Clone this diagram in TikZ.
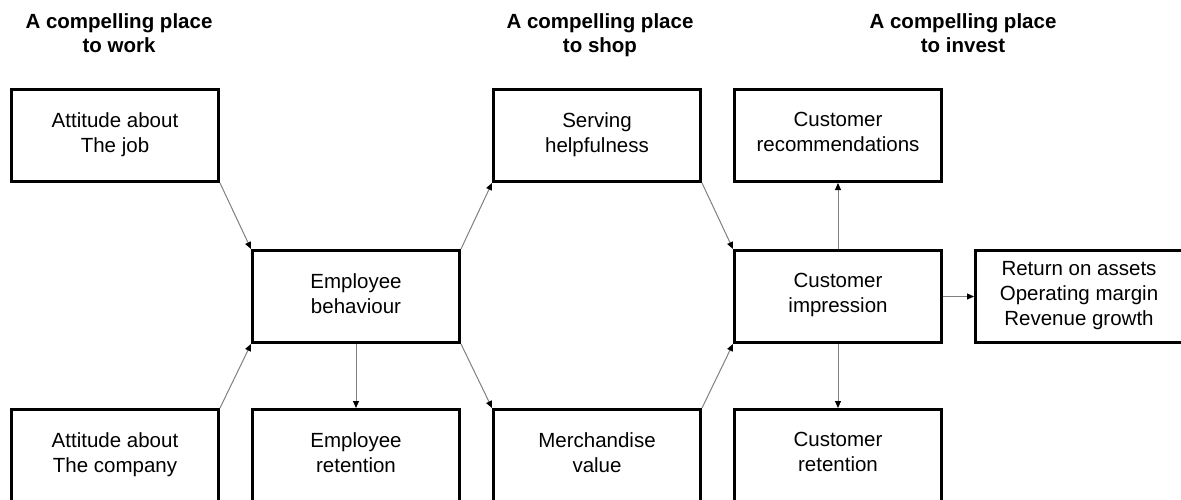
\documentclass[tikz,border=0pt]{standalone}
\usepackage{fontspec}
\setmainfont{Liberation Sans}
\usetikzlibrary{arrows.meta}
\definecolor{conngray}{HTML}{808080}
\newcommand\boxstrut{\rule[-6.5pt]{0pt}{26.5pt}}
\begin{document}
\begin{tikzpicture}[x=1pt,y=-1pt,
  box/.style={draw=black, line width=3pt, minimum width=207pt, minimum height=92pt,
    inner sep=0pt, align=center, font=\fontsize{20.5}{25}\selectfont,
    execute at begin node=\boxstrut, execute at end node=\boxstrut},
  head/.style={align=center, font=\fontsize{20.5}{24}\selectfont\bfseries,
    inner sep=0pt, anchor=base},
  conn/.style={draw=conngray, line width=1pt,
    -{Triangle[length=7pt,width=6pt,color=black]}}]
\useasboundingbox (0,0) rectangle (1181,500);
\clip (0,0) rectangle (1181,500);

\node[head] (h1) at (119,53) {A compelling place\\to work};
\node[head] (h2) at (600,53) {A compelling place\\to shop};
\node[head] (h3) at (963,53) {A compelling place\\to invest};

\node[box] (job)   at (115,135.5) {Attitude about\\The job};
\node[box] (comp)  at (115,455.5) {Attitude about\\The company};
\node[box] (beh)   at (356,296.5) {Employee\\behaviour};
\node[box] (eret)  at (356,455.5) {Employee\\retention};
\node[box] (serv)  at (597,135.5) {Serving\\helpfulness};
\node[box] (merch) at (597,455.5) {Merchandise\\value};
\node[box] (rec)   at (838,135.5) {Customer\\recommendations};
\node[box] (imp)   at (838,296.5) {Customer\\impression};
\node[box] (cret)  at (838,455.5) {Customer\\retention};
\node[box] (roa)   at (1079,296.5) {Return on assets\\Operating margin\\Revenue growth};

\draw[conn] (job.south east) -- (beh.north west);
\draw[conn] (comp.north east) -- (beh.south west);
\draw[conn] (beh.north east) -- (serv.south west);
\draw[conn] (beh.south east) -- (merch.north west);
\draw[conn] (beh.south) -- (eret.north);
\draw[conn] (serv.south east) -- (imp.north west);
\draw[conn] (merch.north east) -- (imp.south west);
\draw[conn] (imp.north) -- (rec.south);
\draw[conn] (imp.south) -- (cret.north);
\draw[conn] (imp.east) -- (roa.west);
\end{tikzpicture}
\end{document}
